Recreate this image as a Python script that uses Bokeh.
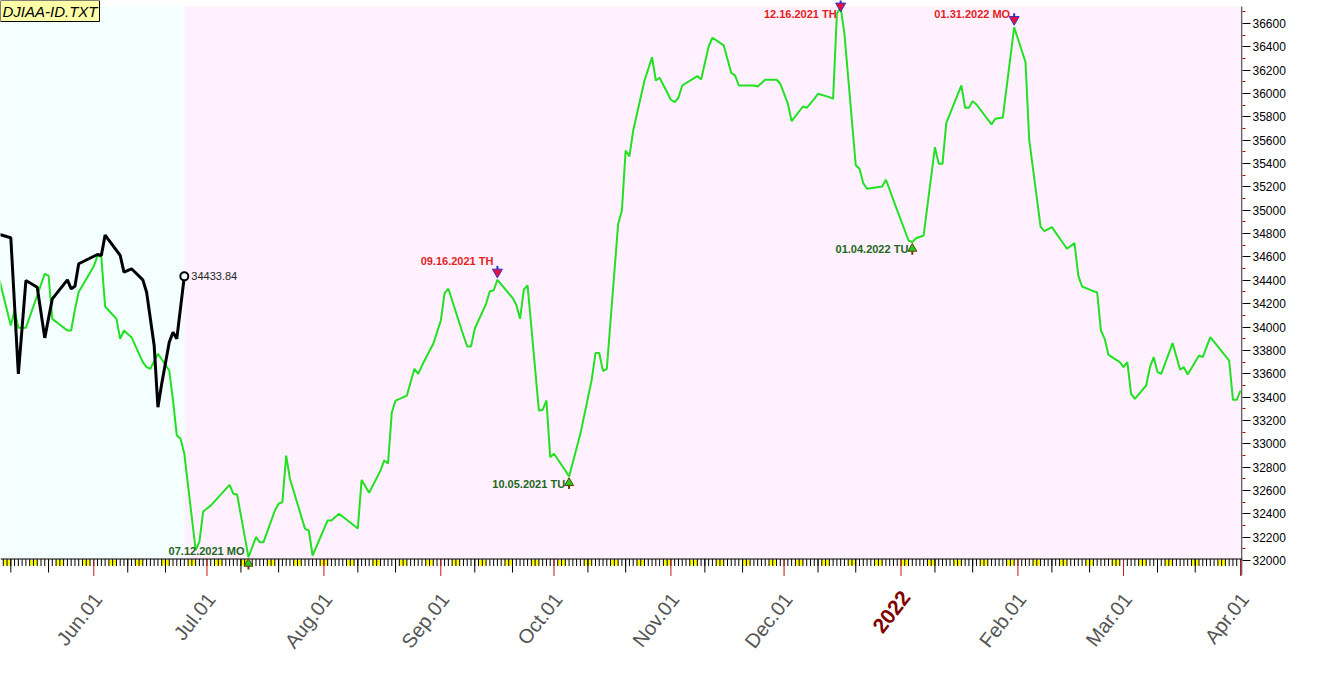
import pandas as pd
from math import pi
from bokeh.plotting import figure
from bokeh.layouts import column
from bokeh.models import Range1d, FixedTicker, BoxAnnotation, Label
from bokeh.core.properties import value
from bokeh.embed import file_html
from bokeh.resources import INLINE

# ---------------- data ----------------
green_dates = [
    "2021-05-07", "2021-05-10", "2021-05-11", "2021-05-12", "2021-05-14", "2021-05-19", "2021-05-20",
    "2021-05-21", "2021-05-25", "2021-05-26", "2021-05-27", "2021-05-28", "2021-06-01", "2021-06-02",
    "2021-06-03", "2021-06-04", "2021-06-07", "2021-06-08", "2021-06-09", "2021-06-10", "2021-06-11",
    "2021-06-14", "2021-06-15", "2021-06-16", "2021-06-18", "2021-06-21", "2021-06-22", "2021-06-23",
    "2021-06-24", "2021-06-25", "2021-06-28", "2021-06-29", "2021-06-30", "2021-07-01", "2021-07-02",
    "2021-07-07", "2021-07-08", "2021-07-09", "2021-07-12", "2021-07-14", "2021-07-15", "2021-07-16",
    "2021-07-19", "2021-07-20", "2021-07-21", "2021-07-22", "2021-07-23", "2021-07-27", "2021-07-28",
    "2021-07-29", "2021-08-02", "2021-08-03", "2021-08-05", "2021-08-09", "2021-08-10", "2021-08-11",
    "2021-08-13", "2021-08-16", "2021-08-17", "2021-08-18", "2021-08-19", "2021-08-20", "2021-08-23",
    "2021-08-25", "2021-08-26", "2021-08-27", "2021-08-30", "2021-09-01", "2021-09-02", "2021-09-03",
    "2021-09-07", "2021-09-08", "2021-09-09", "2021-09-10", "2021-09-13", "2021-09-14", "2021-09-15",
    "2021-09-16", "2021-09-20", "2021-09-21", "2021-09-22", "2021-09-23", "2021-09-24", "2021-09-27",
    "2021-09-28", "2021-09-29", "2021-09-30", "2021-10-01", "2021-10-04", "2021-10-05", "2021-10-08",
    "2021-10-11", "2021-10-12", "2021-10-13", "2021-10-14", "2021-10-15", "2021-10-18", "2021-10-19",
    "2021-10-20", "2021-10-21", "2021-10-22", "2021-10-25", "2021-10-27", "2021-10-28", "2021-10-29",
    "2021-11-01", "2021-11-02", "2021-11-03", "2021-11-04", "2021-11-08", "2021-11-09", "2021-11-11",
    "2021-11-12", "2021-11-15", "2021-11-17", "2021-11-18", "2021-11-19", "2021-11-23", "2021-11-24",
    "2021-11-26", "2021-11-29", "2021-11-30", "2021-12-02", "2021-12-03", "2021-12-06", "2021-12-07",
    "2021-12-09", "2021-12-10", "2021-12-13", "2021-12-14", "2021-12-15", "2021-12-16", "2021-12-17",
    "2021-12-20", "2021-12-21", "2021-12-22", "2021-12-23", "2021-12-27", "2021-12-28", "2021-12-29",
    "2021-12-30", "2022-01-03", "2022-01-04", "2022-01-05", "2022-01-07", "2022-01-10", "2022-01-11",
    "2022-01-12", "2022-01-13", "2022-01-17", "2022-01-18", "2022-01-19", "2022-01-20", "2022-01-21",
    "2022-01-25", "2022-01-26", "2022-01-28", "2022-01-31", "2022-02-03", "2022-02-04", "2022-02-07",
    "2022-02-08", "2022-02-10", "2022-02-14", "2022-02-16", "2022-02-17", "2022-02-18", "2022-02-21",
    "2022-02-22", "2022-02-23", "2022-02-24", "2022-02-25", "2022-02-28", "2022-03-01", "2022-03-02",
    "2022-03-03", "2022-03-04", "2022-03-07", "2022-03-08", "2022-03-09", "2022-03-10", "2022-03-11",
    "2022-03-14", "2022-03-16", "2022-03-17", "2022-03-18", "2022-03-21", "2022-03-22", "2022-03-24",
    "2022-03-29", "2022-03-30", "2022-03-31", "2022-04-01",
]
green_values = [
    34400, 34013, 34141, 33993, 33993, 34456, 34441,
    34070, 33970, 33970, 34150, 34300, 34520, 34613,
    34598, 34176, 34070, 33899, 33970, 33940, 33913,
    33700, 33656, 33642, 33771, 33628, 33371, 33071,
    33042, 32914, 32090, 32160, 32420, 32445, 32470,
    32648, 32571, 32565, 32029, 32200, 32157, 32157,
    32428, 32486, 32500, 32899, 32700, 32271, 32257,
    32043, 32343, 32343, 32400, 32300, 32274, 32690,
    32580, 32770, 32857, 32830, 33268, 33370, 33413,
    33642, 33599, 33670, 33856, 34056, 34290, 34328,
    33927, 33833, 33833, 33985, 34199, 34307, 34313,
    34404, 34250, 34190, 34070, 34319, 34356, 33285,
    33290, 33371, 32885, 32914, 32771, 32720, 33085,
    33548, 33777, 33777, 33622, 33642, 34880, 34998,
    35512, 35461, 35683, 36112, 36311, 36112, 36135,
    35947, 35927, 35964, 36069, 36150, 36119, 36403,
    36478, 36412, 36176, 36155, 36069, 36069, 36060,
    36118, 36118, 36084, 35913, 35764, 35889, 35878,
    35955, 35998, 35969, 35955, 36683, 36741, 36512,
    35386, 35356, 35232, 35184, 35204, 35261, 35176,
    35084, 34741, 34727, 34760, 34784, 35540, 35398,
    35398, 35747, 36069, 35878, 35878, 35935, 35906,
    35735, 35784, 35795, 36568, 36270, 35600, 34861,
    34821, 34856, 34670, 34719, 34441, 34347, 34307,
    34298, 33970, 33899, 33762, 33699, 33656, 33699,
    33428, 33385, 33499, 33656, 33742, 33613, 33599,
    33862, 33634, 33656, 33593, 33756, 33742, 33913,
    33713, 33376, 33376, 33456,
]
black_dates = [
    "2021-05-07", "2021-05-10", "2021-05-12", "2021-05-14", "2021-05-17", "2021-05-19", "2021-05-21",
    "2021-05-25", "2021-05-26", "2021-05-27", "2021-05-28", "2021-06-02", "2021-06-03", "2021-06-04",
    "2021-06-08", "2021-06-09", "2021-06-11", "2021-06-14", "2021-06-15", "2021-06-17", "2021-06-18",
    "2021-06-19", "2021-06-21", "2021-06-22", "2021-06-23", "2021-06-25",
]
black_values = [
    34793, 34765, 33599, 34398, 34341, 33907, 34241,
    34404, 34327, 34350, 34542, 34621, 34613, 34788,
    34613, 34470, 34499, 34404, 34298, 33842, 33313,
    33513, 33870, 33956, 33899, 34433.84,
]
peak_dates = ["2021-09-16", "2021-12-16", "2022-01-31"]
trough_dates = ["2021-07-12", "2021-10-05", "2022-01-04"]
month_ticks = ["2021-06-01", "2021-07-01", "2021-08-01", "2021-09-01", "2021-10-01", "2021-11-01",
               "2021-12-01", "2022-01-01", "2022-02-01", "2022-03-01", "2022-04-01"]
month_labels = ["Jun.01", "Jul.01", "Aug.01", "Sep.01", "Oct.01", "Nov.01",
                "Dec.01", "2022", "Feb.01", "Mar.01", "Apr.01"]
y_ticks = list(range(32000, 36601, 200))
y_minor_ticks = list(range(32100, 36701, 200))
file_name = "DJIAA-ID.TXT"
weekday_abbr = ["MO", "TU", "WE", "TH", "FR", "SA", "SU"]

# ---------------- layout ----------------
FONT = "Liberation Sans"
DAY = 86400000.0


def ms(d):
    return pd.Timestamp(d).value / 1e6


FRAME_W, FRAME_H = 1242, 576
LABEL_W, LABEL_H = 1300, 104
PX_PER_DAY = 3.772
ppu = 0.11674                               # pixels per index point
x_start = ms("2021-06-01") - 93.3 / PX_PER_DAY * DAY
x_end = x_start + FRAME_W / PX_PER_DAY * DAY
y_end = 32000 + 560 / ppu
y_start = y_end - FRAME_H / ppu


def px(n):
    return n / ppu


axis_y = 32000 + px(1.5)        # drawn x-axis line
bg_top = 32000 + px(554)        # top of coloured background

p = figure(title=None, frame_width=FRAME_W, frame_height=FRAME_H, x_axis_type="datetime",
           y_axis_location="right", x_range=Range1d(x_start, x_end), y_range=Range1d(y_start, y_end),
           output_backend="svg", toolbar_location=None, min_border=0)
p.outline_line_color = None
p.grid.visible = False
p.background_fill_color = "white"
p.border_fill_color = "white"
p.xaxis.visible = False

split = ms(black_dates[-1])
p.add_layout(BoxAnnotation(left=x_start, right=split, bottom=axis_y, top=bg_top, fill_color="#F4FFFF",
                           fill_alpha=1, line_color=None, level="underlay"))
p.add_layout(BoxAnnotation(left=split, right=x_end, bottom=axis_y, top=bg_top, fill_color="#FFF1FF",
                           fill_alpha=1, line_color=None, level="underlay"))

# daily ticks, weekend blocks
first_day = pd.to_datetime(x_start, unit="ms").normalize() - pd.Timedelta(days=1)
days = pd.date_range(first_day, pd.to_datetime(x_end, unit="ms"), freq="D")
sats = [ms(d) for d in days if d.weekday() == 5]
p.quad(left=sats, right=[s + 2 * DAY for s in sats], top=axis_y - px(0.8), bottom=axis_y - px(6.5),
       fill_color="#FFFF00", line_color=None)
dx = [ms(d) for d in days]
p.segment(x0=dx, y0=axis_y, x1=dx, y1=axis_y - px(7), line_color="black", line_width=1)
tens = [ms(d) for d in days if d.day in (10, 20)]
p.segment(x0=tens, y0=axis_y, x1=tens, y1=axis_y - px(13.5), line_color="black", line_width=1)
firsts = [ms(d) for d in days if d.day == 1]
p.segment(x0=firsts, y0=axis_y, x1=firsts, y1=y_start, line_color="#C81414", line_width=1)
p.segment(x0=[x_start], y0=[axis_y], x1=[x_end], y1=[axis_y], line_color="black", line_width=1)
edge = x_end - 0.6 / PX_PER_DAY * DAY
p.segment(x0=[edge], y0=[y_start + px(1)], x1=[edge], y1=[bg_top], line_color="black", line_width=1)

# series
gx = [ms(d) for d in green_dates]
bx = [ms(d) for d in black_dates]
p.line(gx, green_values, line_color="#22E022", line_width=2)
p.line(bx, black_values, line_color="black", line_width=3)
p.scatter([bx[-1]], [black_values[-1]], marker="circle", size=8, fill_color="#F4FFFF",
          line_color="black", line_width=2)
p.text([bx[-1]], [black_values[-1]], text=[f"{black_values[-1]:.2f}"], x_offset=7,
       text_baseline="middle", text_font=value(FONT), text_font_size="11px", text_color="#222222")

# turning point markers
gmap = dict(zip(green_dates, green_values))


def tag(d):
    t = pd.Timestamp(d)
    return t.strftime("%m.%d.%Y") + " " + weekday_abbr[t.weekday()]


hx = [ms(d) for d in peak_dates]
hy = [gmap[d] for d in peak_dates]
hc = [min(v + px(7.8), y_end - px(5.5)) for v in hy]
p.segment(x0=hx, y0=[c + px(2.7) for c in hc], x1=hx, y1=[c + px(6.2) for c in hc],
          line_color="#3030C8", line_width=2)
p.scatter(hx, hc, marker="inverted_triangle", size=10,
          fill_color="#E8103C", line_color="#3030C8", line_width=1)
peak_dy = [19, -6.6, 13.4]
p.text(hx, [v + px(dy) for v, dy in zip(hy, peak_dy)], text=[tag(d) for d in peak_dates],
       x_offset=-4, text_align="right", text_baseline="middle", text_font=value(FONT),
       text_font_style="bold", text_font_size="11px", text_color="#E41E1E")

lx = [ms(d) for d in trough_dates]
ly = [gmap[d] for d in trough_dates]
p.segment(x0=lx, y0=[v - px(9) for v in ly], x1=lx, y1=[v - px(12.5) for v in ly],
          line_color="#6A3A00", line_width=2)
p.scatter(lx, [v - px(6.5) for v in ly], marker="triangle", size=9,
          fill_color="#22D022", line_color="#6A3A00", line_width=1)
trough_dy = [5.7, -7.3, -6.6]
p.text(lx, [v + px(dy) for v, dy in zip(ly, trough_dy)], text=[tag(d) for d in trough_dates],
       x_offset=-4, text_align="right", text_baseline="middle", text_font=value(FONT),
       text_font_style="bold", text_font_size="11px", text_color="#226622")

# right axis
yax = p.yaxis[0]
yax.ticker = FixedTicker(ticks=y_ticks, minor_ticks=y_minor_ticks)
yax.major_tick_out = 8
yax.major_tick_in = 0
yax.minor_tick_out = 3
yax.minor_tick_in = 0
yax.major_tick_line_color = "black"
yax.minor_tick_line_color = "#B00000"
yax.axis_line_color = None
yax.major_label_text_font = FONT
yax.major_label_text_font_size = "12px"
yax.major_label_text_color = "black"
yax.major_label_standoff = 2

p.add_layout(Label(x=x_start, y=y_end, text=file_name, text_align="left", text_baseline="top",
                   text_font=FONT, text_font_style="italic", text_font_size="15px", text_color="black",
                   background_fill_color="#FFFFA8", background_fill_alpha=1,
                   border_line_color="black", padding=2))

# ---- month label strip (same time scale, below the chart) ----
q = figure(title=None, frame_width=LABEL_W, frame_height=LABEL_H, x_axis_type="datetime",
           x_range=Range1d(x_start, x_start + LABEL_W / PX_PER_DAY * DAY), y_range=Range1d(LABEL_H, 0),
           output_backend="svg", toolbar_location=None, min_border=0)
q.outline_line_color = None
q.grid.visible = False
q.axis.visible = False
q.background_fill_color = "white"
q.border_fill_color = "white"

ANG = 52 * pi / 180
norm = [(ms(t), l) for t, l in zip(month_ticks, month_labels) if not l.isdigit()]
year = [(ms(t), l) for t, l in zip(month_ticks, month_labels) if l.isdigit()]
q.text([t for t, _ in norm], 19, text=[l for _, l in norm], angle=ANG, x_offset=4,
       text_align="right", text_baseline="middle", text_font=value(FONT), text_font_size="20px",
       text_color="#555555")
q.text([t for t, _ in year], 17, text=[l for _, l in year], angle=ANG, x_offset=5,
       text_align="right", text_baseline="middle", text_font=value(FONT), text_font_size="21px",
       text_font_style="bold", text_color="#800000")

open("out.html", "w").write(file_html(column(p, q), INLINE))
